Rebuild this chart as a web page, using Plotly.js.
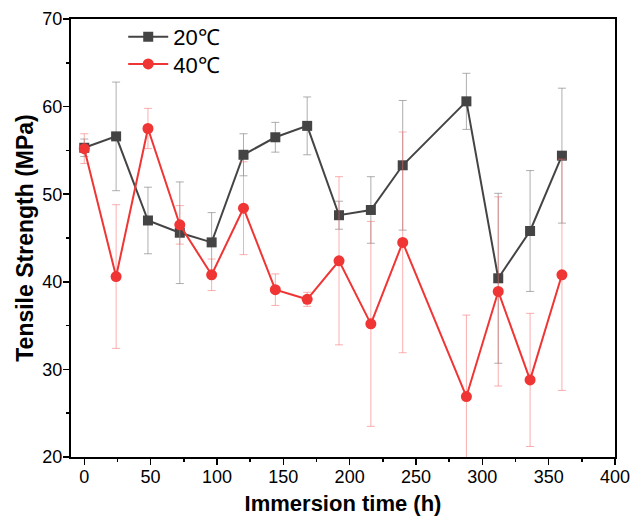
<!DOCTYPE html>
<html><head><meta charset="utf-8">
<script src="https://cdn.plot.ly/plotly-3.0.1.min.js"></script>
<style>body{margin:0;background:#fff}#chart{width:630px;height:520px}</style>
</head><body><div id="chart"></div>
<script>
const hours = [0,24,48,72,96,120,144,168,192,216,240,288,312,336,360];
const strength20 = [55.3,56.6,47.0,45.6,44.5,54.5,56.5,57.8,47.6,48.2,53.3,60.6,40.4,45.8,54.4];
const err20 = [1.0,6.2,3.8,5.8,3.4,2.4,1.7,3.3,1.6,3.8,7.4,3.2,9.7,6.9,7.7];
const strength40 = [55.2,40.6,57.5,46.5,40.8,48.4,39.1,38.0,42.4,35.2,44.5,26.9,38.9,28.8,40.8];
const err40 = [1.7,8.2,2.3,2.2,1.8,5.3,1.8,0.8,9.6,11.7,12.6,9.3,10.8,7.6,13.2];
const names = ['20℃','40℃'];
const xTicks = [0,50,100,150,200,250,300,350,400];
const yTicks = [20,30,40,50,60,70];

const traces = [
  {x:hours,y:strength20,name:names[0],legend:'legend',mode:'lines+markers',
   line:{color:'#444444',width:2},marker:{symbol:'square',size:10,color:'#444444'},
   error_y:{type:'data',array:err20,visible:true,color:'rgba(130,130,130,0.65)',thickness:1,width:4}},
  {x:hours,y:strength40,name:names[1],legend:'legend2',mode:'lines+markers',
   line:{color:'#f03535',width:2},marker:{symbol:'circle',size:11,color:'#f03535'},
   error_y:{type:'data',array:err40,visible:true,color:'rgba(245,110,110,0.55)',thickness:1,width:4}}
];
const FF = 'Liberation Sans, Arial, sans-serif';
const axisFont = {family:FF,size:18,color:'#000'};
const legFont = {family:FF,size:22,color:'#000'};
const layout = {
  width:630,height:520,
  margin:{l:71,r:15,t:19,b:63},
  paper_bgcolor:'#fff',plot_bgcolor:'#fff',
  font:axisFont,
  showlegend:true,
  legend:{x:0.096,y:0.959,xanchor:'left',yanchor:'middle',bgcolor:'rgba(0,0,0,0)',font:legFont,itemwidth:40},
  legend2:{x:0.096,y:0.897,xanchor:'left',yanchor:'middle',bgcolor:'rgba(0,0,0,0)',font:legFont,itemwidth:40},
  xaxis:{range:[-10,400],tickvals:xTicks,ticks:'outside',ticklen:6,tickwidth:1.5,tickcolor:'#000',
    showline:true,linecolor:'#000',linewidth:2,mirror:true,showgrid:false,zeroline:false,
    tickfont:axisFont,ticklabeloverflow:'allow',ticklabelstandoff:-4,
    minor:{dtick:25,tick0:0,ticks:'outside',ticklen:3,tickwidth:1.5,tickcolor:'#000',showgrid:false},
    title:{text:'<b>Immersion time (h)</b>',font:{family:FF,size:22,color:'#000'},standoff:10}},
  yaxis:{range:[20,70],tickvals:yTicks,ticks:'outside',ticklen:6,tickwidth:1.5,tickcolor:'#000',
    showline:true,linecolor:'#000',linewidth:2,mirror:true,showgrid:false,zeroline:false,
    tickfont:axisFont,ticklabeloverflow:'allow',ticklabelstandoff:-3,
    minor:{dtick:5,tick0:20,ticks:'outside',ticklen:3,tickwidth:1.5,tickcolor:'#000',showgrid:false},
    title:{text:'<b>Tensile Strength (MPa)</b>',font:{family:FF,size:23,color:'#000'},standoff:2}}
};
Plotly.newPlot('chart',traces,layout,{displayModeBar:false,staticPlot:true});
</script></body></html>
